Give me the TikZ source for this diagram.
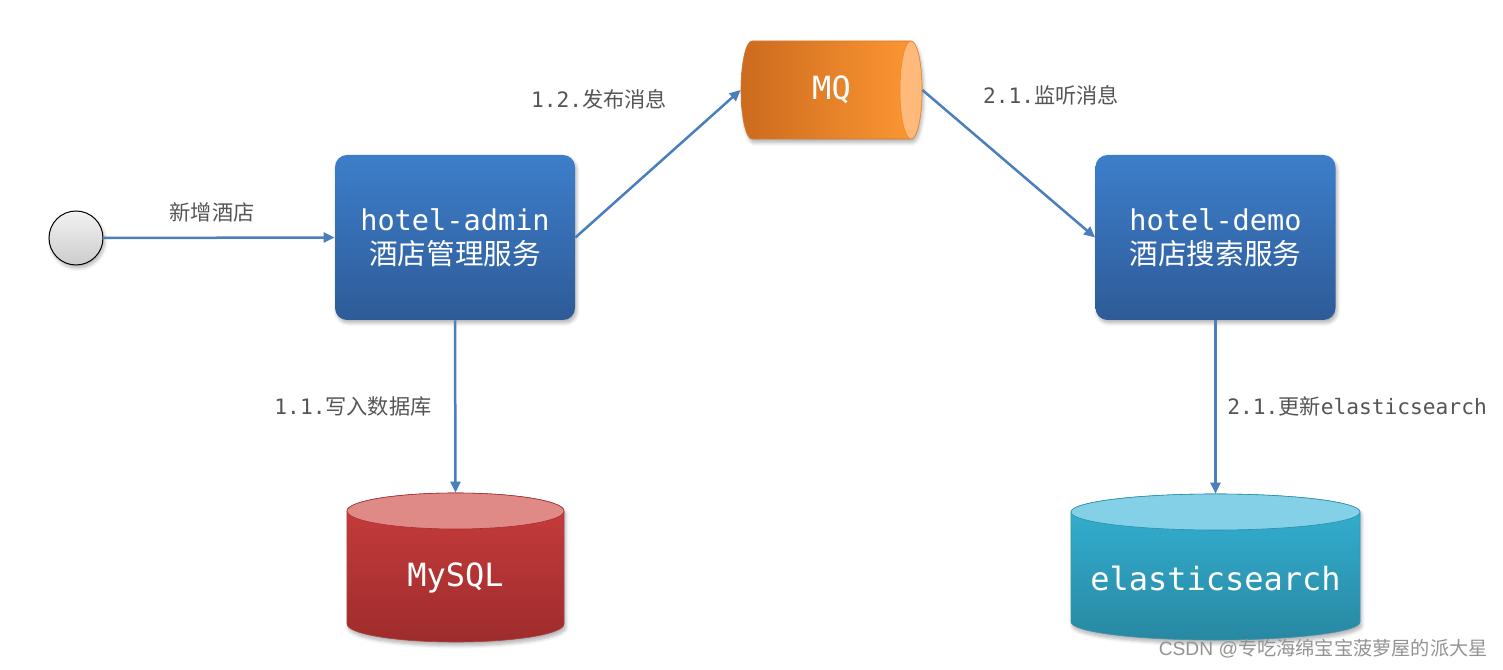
\documentclass[tikz,border=0pt]{standalone}
\usepackage{fontspec}
\setmonofont{DejaVu Sans Mono}
\setsansfont{Liberation Sans}
\newfontfamily\cjk{Noto Sans CJK SC}
\usetikzlibrary{arrows.meta,shadows.blur}
\newcommand\zh[1]{{\cjk #1}}
\definecolor{boxtop}{RGB}{61,126,202}
\definecolor{boxbot}{RGB}{46,91,152}
\definecolor{arrowc}{RGB}{74,126,189}
\definecolor{labelc}{RGB}{85,85,85}
\definecolor{mqleft}{RGB}{204,106,30}
\definecolor{mqright}{RGB}{255,153,51}
\definecolor{mqcap}{RGB}{255,185,122}
\definecolor{sqltop}{RGB}{202,60,60}
\definecolor{sqlbot}{RGB}{158,44,44}
\definecolor{sqlcap}{RGB}{224,138,135}
\definecolor{estop}{RGB}{52,178,212}
\definecolor{esbot}{RGB}{40,136,162}
\definecolor{escap}{RGB}{132,208,230}
\tikzset{
  svcbox/.style={rounded corners=6pt, minimum width=120pt, minimum height=82.5pt,
    top color=boxtop, bottom color=boxbot, draw=none, text=white, align=center,
    font=\fontsize{14.3}{17}\selectfont\ttfamily,
    blur shadow={shadow blur steps=6, shadow xshift=0.8pt, shadow yshift=-1.5pt, shadow opacity=30}},
  startdot/.style={circle, minimum size=27pt, inner sep=0pt, draw=black, line width=0.5pt,
    top color=gray!10, bottom color=gray!40,
    blur shadow={shadow blur steps=6, shadow xshift=0.8pt, shadow yshift=-1.5pt, shadow opacity=30}},
  holder/.style={inner sep=0pt, draw=none, text=white, font=\fontsize{16}{19}\selectfont\ttfamily},
  flow/.style={draw=arrowc, line width=1.25pt, -{Triangle[length=5.5pt,width=5pt]}},
  lbl/.style={text=labelc, font=\fontsize{10.6}{12}\selectfont\ttfamily, inner sep=0pt},
  cylshadow/.style={blur shadow={shadow blur steps=6, shadow xshift=0.8pt, shadow yshift=-1.8pt, shadow opacity=30}}
}
\begin{document}
\begin{tikzpicture}[x=0.5pt,y=0.5pt]
\useasboundingbox (0,0) rectangle (1503,669);
% start
\node[startdot] (start) at (76,431) {};
% services
\node[svcbox] (admin) at (455,431.5) {hotel-admin\\\zh{酒店管理服务}};
\node[svcbox] (demo) at (1215.5,431.5) {hotel-demo\\\zh{酒店搜索服务}};
% MQ cylinder (horizontal)
\path[cylshadow, left color=mqleft, right color=mqright, draw=mqleft!90!white, line width=0.3pt]
  (752,628) -- (911,628) arc[start angle=90,end angle=-90,x radius=11,y radius=49]
  -- (752,530) arc[start angle=270,end angle=90,x radius=11,y radius=49] -- cycle;
\path[fill=mqcap, draw=mqright!90!black, line width=0.3pt] (911,579) ellipse[x radius=11,y radius=49];
\node[holder, minimum width=90.5pt, minimum height=49pt] (mq) at (831.5,579) {MQ};
% MySQL cylinder
\path[cylshadow, top color=sqltop, bottom color=sqlbot, draw=sqlbot!90!white, line width=0.3pt]
  (347,158) -- (347,45) arc[start angle=180,end angle=360,x radius=108.5,y radius=18]
  -- (564,158) arc[start angle=0,end angle=180,x radius=108.5,y radius=18] -- cycle;
\path[fill=sqlcap, draw=sqltop!80!black, line width=0.3pt] (455.5,158) ellipse[x radius=108.5,y radius=18];
\node[holder, minimum width=108.5pt, minimum height=74.5pt] (mysql) at (455.5,101.5) {};
\node[holder] (mysqltxt) at (455.5,91) {MySQL};
% elasticsearch cylinder
\path[cylshadow, top color=estop, bottom color=esbot, draw=esbot!90!white, line width=0.3pt]
  (1071,157) -- (1071,47) arc[start angle=180,end angle=360,x radius=144.5,y radius=18]
  -- (1360,157) arc[start angle=0,end angle=180,x radius=144.5,y radius=18] -- cycle;
\path[fill=escap, draw=estop!80!black, line width=0.3pt] (1215.5,157) ellipse[x radius=144.5,y radius=18];
\node[holder, minimum width=144.5pt, minimum height=73pt] (es) at (1215.5,102) {};
\node[holder] (estxt) at (1215.5,91) {elasticsearch};
% connectors
\draw[flow] (start.east) -- (admin.west);
\draw[flow] (admin.east) -- (mq.west);
\draw[flow] (mq.east) -- (demo.west);
\draw[flow] (admin.south) -- (mysql.north);
\draw[flow] (demo.south) -- (es.north);
% labels
\node[lbl] (l0) at (212,457) {\zh{新增酒店}};
\node[lbl] (l1) at (599,570) {1.2.\zh{发布消息}};
\node[lbl] (l2) at (1051,574) {2.1.\zh{监听消息}};
\node[lbl] (l3) at (353,263) {1.1.\zh{写入数据库}};
\node[lbl, anchor=west] (l4) at (1227,263) {2.1.\zh{更新}elasticsearch};
% watermark
\node[inner sep=0pt, anchor=east, text=gray!85, font=\fontsize{9.6}{11}\selectfont\sffamily] (wm) at (1488,20) {CSDN @\zh{专吃海绵宝宝菠萝屋的派大星}};
\end{tikzpicture}
\end{document}
